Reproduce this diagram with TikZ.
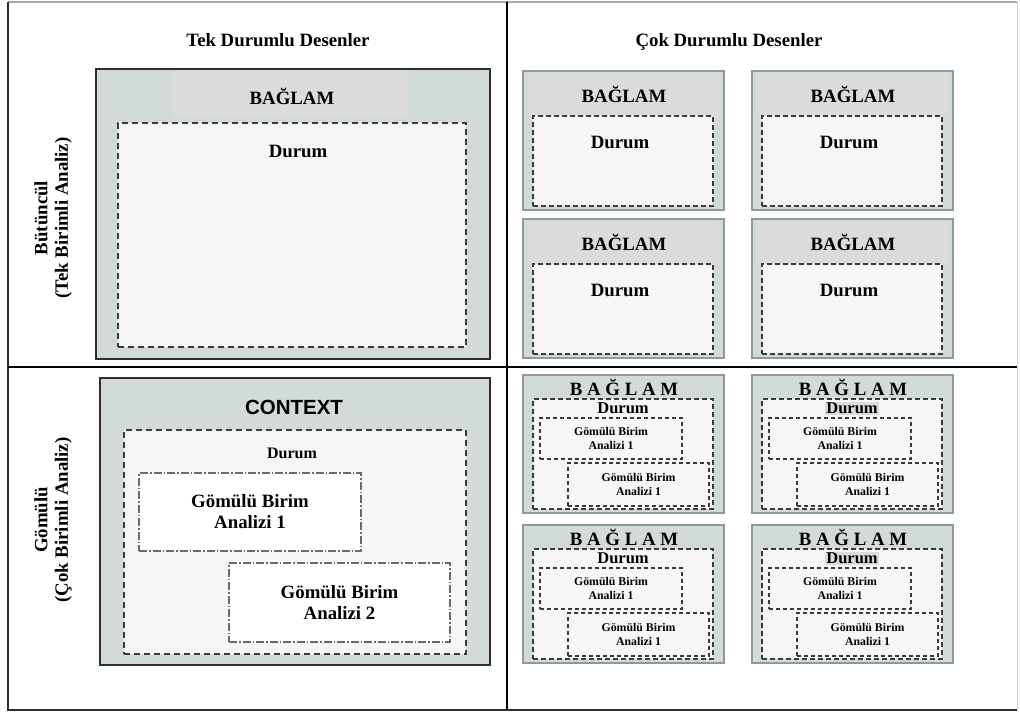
\documentclass[tikz,border=0pt]{standalone}
\usepackage{fontspec}
\setmainfont{Liberation Serif}
\newfontfamily\ctxfont{Liberation Sans}
\definecolor{ctxfill}{HTML}{D3DBD6}
\definecolor{hdrfill}{HTML}{DCDBDB}
\definecolor{casefill}{HTML}{F6F6F6}
\definecolor{darkline}{HTML}{2E2E2E}
\definecolor{thinframe}{HTML}{8E9A94}
\definecolor{dashline}{HTML}{3A3A3A}
\definecolor{unitline}{HTML}{6A6A6A}

\tikzset{
  every node/.style={inner sep=0pt, outer sep=0pt},
  bigctx/.style={draw=darkline, line width=2.6pt, fill=ctxfill, anchor=north west},
  smallctx/.style={draw=thinframe, line width=1.3pt, fill=ctxfill, anchor=north west},
  casebox/.style={draw=dashline, line width=1.8pt, dash pattern=on 6pt off 4pt, fill=casefill, anchor=north west},
  smallcase/.style={draw=dashline, line width=1.4pt, dash pattern=on 5pt off 3pt, fill=casefill, anchor=north west},
  bigunit/.style={draw=unitline, line width=1.2pt, dash pattern=on 8pt off 2pt on 1.5pt off 2pt, fill=white, anchor=north west, align=center, font=\fontsize{18.8}{21}\selectfont\bfseries},
  smallunit/.style={draw=dashline, line width=1.2pt, dash pattern=on 4pt off 3pt, fill=casefill, anchor=north west, align=center, font=\fontsize{11.8}{14}\selectfont\bfseries},
  btxt/.style={font=\fontsize{18.8}{20.5}\selectfont\bfseries},
  durumsm/.style={font=\fontsize{16.5}{18}\selectfont\bfseries, inner sep=1pt},
  durumbg/.style={},
  % single-case context box: header band, dashed case
  simplecase/.pic={
    \node[smallctx, minimum width=201pt, minimum height=139pt] (-ctx) at (0,0) {};
    \fill[hdrfill] (5,2) rectangle (196,45);
    \node[btxt] (-hdr) at (101,23) {BAĞLAM};
    \node[smallcase, minimum width=180pt, minimum height=90pt] (-case) at (10,45) {};
    \node[btxt] (-durum) at (97,71) {Durum};
  },
  % context box with a case holding two embedded units
  embcase/.pic={
    \node[smallctx, minimum width=201pt, minimum height=138pt] (-ctx) at (0,0) {};
    \node[btxt] (-hdr) at (101,12) {B A Ğ L A M};
    \node[smallcase, minimum width=180pt, minimum height=110pt] (-case) at (10,24) {};
    \node[durumsm, durumbg] (-durum) at (100,33) {Durum};
    \node[smallunit, minimum width=142pt, minimum height=41pt] (-u1) at (17,43) {Gömülü Birim\\Analizi 1};
    \node[smallunit, minimum width=141pt, minimum height=43pt] (-u2) at (45,88) {Gömülü Birim\\Analizi 1};
  }
}

\begin{document}
\begin{tikzpicture}[x=1pt, y=-1pt]
\useasboundingbox[fill=white] (0,0) rectangle (1020,713);

% outer frame and dividers
\draw[line width=2pt, draw=gray!70] (8,2) -- (1017,2);
\draw[line width=1pt, draw=gray!35] (1017,2) -- (1017,710);
\draw[line width=2pt, draw=darkline] (8,2) -- (8,710) -- (1017,710);
\draw[line width=2.6pt, draw=black] (507,2) -- (507,710);
\draw[line width=2.2pt, draw=black] (8,367) -- (1017,367);

% column and row titles
\node[btxt] (colA) at (278,40) {Tek Durumlu Desenler};
\node[btxt] (colB) at (729,42) {Çok Durumlu Desenler};
\node[btxt, rotate=90, align=center] (rowA) at (53,218) {Bütüncül\\(Tek Birimli Analiz)};
\node[btxt, rotate=90, align=center] (rowB) at (53,520) {Gömülü\\(Çok Birimli Analiz)};

% holistic single case
\node[bigctx, minimum width=394pt, minimum height=290pt] (hsCtx) at (96,69) {};
\fill[hdrfill] (173,71) rectangle (408,118);
\node[btxt] (hsHdr) at (292,96) {BAĞLAM};
\node[casebox, minimum width=348pt, minimum height=224pt] (hsCase) at (118,123) {};
\node[btxt] (hsDurum) at (298,151) {Durum};

% holistic multiple cases
\pic (hm1) at (523,71) {simplecase};
\pic (hm2) at (752,71) {simplecase};
\pic (hm3) at (523,219) {simplecase};
\pic (hm4) at (752,219) {simplecase};

% embedded single case
\node[bigctx, minimum width=390pt, minimum height=287pt] (esCtx) at (100,378) {};
\node[font=\ctxfont\fontsize{20.5}{22}\selectfont\bfseries] (esHdr) at (294,407) {CONTEXT};
\node[casebox, minimum width=342pt, minimum height=224pt] (esCase) at (124,430) {};
\node[font=\fontsize{16}{18}\selectfont\bfseries] (esDurum) at (292,453) {Durum};
\node[bigunit, minimum width=222pt, minimum height=78pt] (esU1) at (139,473) {Gömülü Birim\\Analizi 1};
\node[bigunit, minimum width=221pt, minimum height=79pt] (esU2) at (229,563) {Gömülü Birim\\Analizi 2};

% embedded multiple cases
\pic (em1) at (523,375) {embcase};
\pic[durumbg/.style={fill=hdrfill}] (em2) at (752,375) {embcase};
\pic (em3) at (523,525) {embcase};
\pic[durumbg/.style={fill=hdrfill}] (em4) at (752,525) {embcase};
\end{tikzpicture}
\end{document}
